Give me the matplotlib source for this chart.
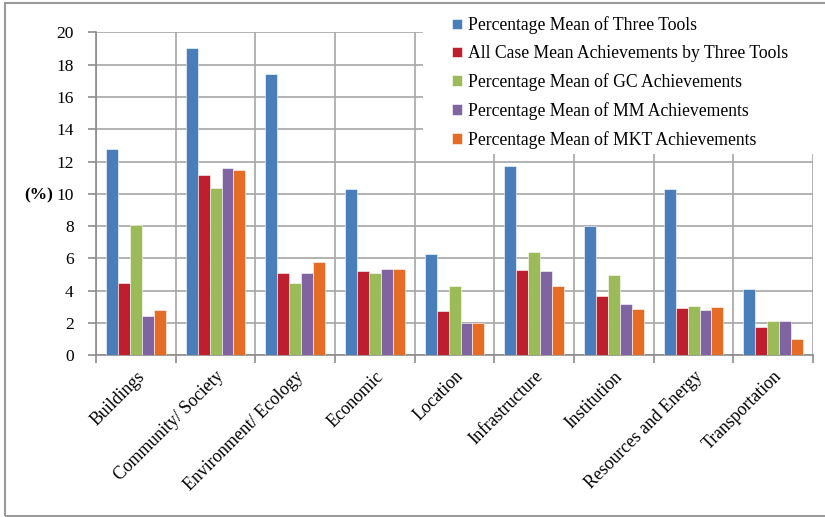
import numpy as np
import matplotlib.pyplot as plt
import matplotlib.transforms as mtransforms
from matplotlib.patches import Rectangle

categories = ['Buildings', 'Community/ Society', 'Environment/ Ecology', 'Economic',
              'Location', 'Infrastructure', 'Institution', 'Resources and Energy',
              'Transportation']

three_tools = [12.8, 19.0, 17.4, 10.3, 6.3, 11.7, 8.0, 10.3, 4.1]
all_case    = [4.45, 11.15, 5.1, 5.2, 2.75, 5.3, 3.7, 2.95, 1.77]
gc_ach      = [8.05, 10.35, 4.5, 5.1, 4.3, 6.4, 4.95, 3.07, 2.14]
mm_ach      = [2.41, 11.6, 5.1, 5.35, 2.0, 5.2, 3.16, 2.8, 2.14]
mkt_ach     = [2.8, 11.5, 5.8, 5.35, 2.0, 4.3, 2.87, 3.0, 0.99]

series_names = ['Percentage Mean of Three Tools',
                'All Case Mean Achievements by Three Tools',
                'Percentage Mean of GC Achievements',
                'Percentage Mean of MM Achievements',
                'Percentage Mean of MKT Achievements']
colors = ['#4A7EBB', '#BE1E2D', '#9BBB59', '#8064A2', '#E46C24']

plt.rcParams['font.family'] = ['Liberation Serif', 'DejaVu Serif']

fig = plt.figure(figsize=(8.25, 5.17), dpi=100)
ax = fig.add_axes([0.1164, 0.3128, 0.8691, 0.6247])

# outer border like the original chart frame
fig.patches.append(Rectangle((5/825, 1/517), 1.2, 1 - 4/517, transform=fig.transFigure,
                             fill=False, edgecolor='#9a9a9a', linewidth=1.5))

x = np.arange(len(categories))
w = 0.15
data = [three_tools, all_case, gc_ach, mm_ach, mkt_ach]
for i, vals in enumerate(data):
    ax.bar(x + (i - 2) * w, vals, width=w, color=colors[i], edgecolor='white',
           linewidth=0.4, label=series_names[i], zorder=3)

ax.set_xlim(-0.5, len(categories) - 0.5)
ax.set_ylim(0, 20)
ax.set_yticks(np.arange(0, 21, 2))
ax.set_xticks(np.arange(-0.5, len(categories), 1.0))
ax.set_xticklabels([])
ax.set_xticks(x, minor=True)
ax.set_xticklabels(categories, minor=True, rotation=45, ha='right',
                   rotation_mode='anchor', fontsize=12.8)
shift = mtransforms.ScaledTranslation(-4/100, 0, fig.dpi_scale_trans)
for lab in ax.get_xticklabels(minor=True):
    lab.set_transform(lab.get_transform() + shift)
ax.tick_params(axis='x', which='minor', length=0, pad=9)
ax.tick_params(axis='x', which='major', length=6, color='#8c8c8c', width=1.2)
ax.tick_params(axis='y', length=6, color='#8c8c8c', width=1.2, labelsize=12.5, pad=10)

ax.set_axisbelow(True)
ax.grid(True, which='major', color='#a6a6a6', linewidth=1.2)
for side in ['top', 'right']:
    ax.spines[side].set_visible(False)
for side in ['left', 'bottom']:
    ax.spines[side].set_color('#8c8c8c')
    ax.spines[side].set_linewidth(1.2)

fig.text(39/825, 1 - 195/517, '(%)', fontsize=12.5, fontweight='bold',
         ha='center', va='center')

# white area behind the legend hides the gridlines there
ax.add_patch(Rectangle((423/825, 1 - 154/517), 0.6, 0.3, transform=fig.transFigure,
                       facecolor='white', edgecolor='none', zorder=2, clip_on=False))

leg = ax.legend(loc='upper left', bbox_to_anchor=(436/825, 1 - 0.5/517),
                bbox_transform=fig.transFigure, frameon=False, fontsize=12.7,
                handlelength=0.55, handleheight=0.55, handletextpad=0.35,
                labelspacing=0.62)
leg.set_zorder(5)

fig.savefig('out.png', dpi=100)
